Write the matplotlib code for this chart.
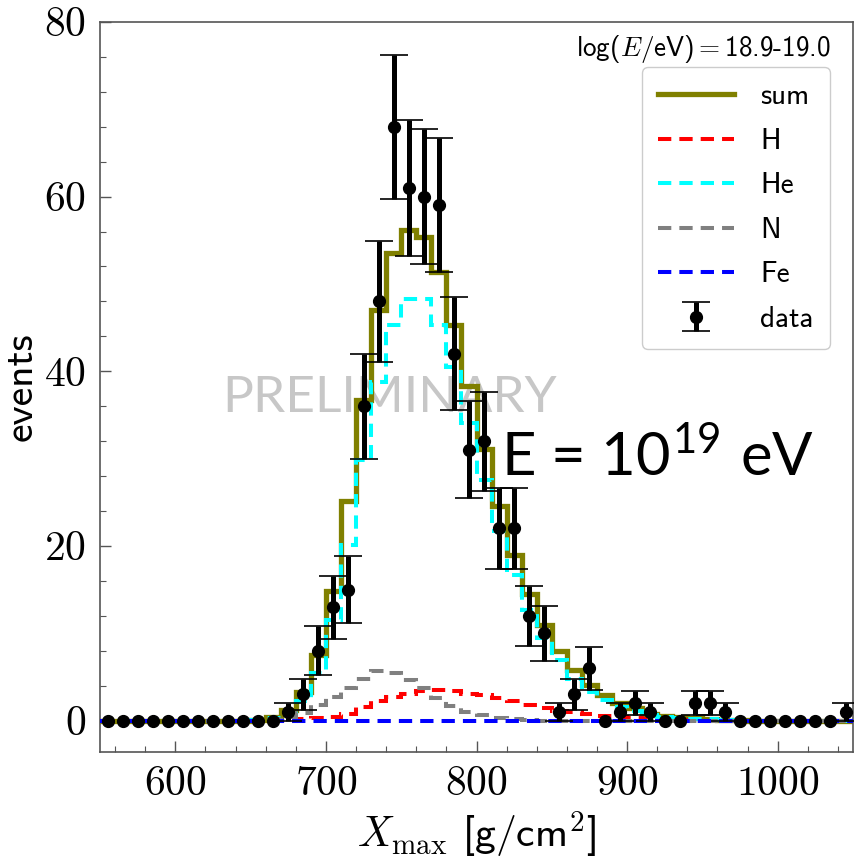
import numpy as np
import matplotlib
matplotlib.use("Agg")
import matplotlib.pyplot as plt
from matplotlib.ticker import MultipleLocator, FuncFormatter

plt.rcParams['mathtext.fontset'] = 'cm'
plt.rcParams['axes.unicode_minus'] = False
plt.rcParams['font.family'] = 'cmss10'

#%% Data (bins of 10 g/cm2 from 550 to 1050)
edges = np.arange(550, 1051, 10)
centers = edges[:-1] + 5

counts = [0]*12 + [1, 3, 8, 13, 15, 36, 48, 68, 61, 60, 59, 42, 31, 32, 22, 22,
                   12, 10, 1, 3, 6, 0, 1, 2, 1, 0, 0, 2, 2, 1] + [0]*7 + [1]

model_sum = [0]*10 + [0.1, 0.45, 1.2, 3.3, 7.5, 14.8, 25.1, 36.7, 47.0, 53.5, 56.2,
                      55.4, 51.4, 45.3, 38.3, 31.1, 24.6, 19.0, 14.5, 10.9, 8.0, 5.8,
                      4.1, 2.9, 2.0, 1.4, 0.8, 0.55, 0.4, 0.3, 0.2, 0.12, 0.05] + [0]*7

model_he = [0]*10 + [0.05, 0.3, 0.7, 2.2, 5.4, 11.5, 20.1, 29.8, 38.8, 45.3, 48.3,
                     48.3, 45.3, 40.5, 34.1, 27.6, 21.7, 16.7, 12.7, 9.5, 6.9, 4.8,
                     3.3, 2.35, 1.55, 1.1, 0.6, 0.45, 0.3, 0.2, 0.15, 0.1, 0.05] + [0]*7

model_n = [0]*11 + [0.15, 0.4, 0.85, 1.8, 2.7, 3.7, 4.8, 5.7, 5.5, 4.65, 3.7, 2.6,
                    1.7, 1.0, 0.6, 0.3, 0.15, 0.05] + [0]*21

model_h = [0]*13 + [0.15, 0.3, 0.45, 0.8, 1.5, 2.2, 2.7, 3.1, 3.4, 3.5, 3.4, 3.1,
                    2.9, 2.55, 2.2, 1.8, 1.4, 1.1, 1.0, 0.8, 0.55, 0.45, 0.3, 0.2,
                    0.1, 0.05] + [0]*11

model_fe = [0]*50

counts = np.array(counts, dtype=float)
err = np.sqrt(counts)
nz = counts > 0

#%% Plot
fig = plt.figure(figsize=(8.62, 8.65), dpi=100)
ax = fig.add_axes([0.116, 0.1306, 0.8736, 0.8440])

ax.text(0.385, 0.485, "PRELIMINARY", transform=ax.transAxes,
        fontsize=37, family='Lato', color='0.78', ha='center', va='center', zorder=0)

dash = dict(ls=(0, (3.3, 2.0)), lw=2.9, zorder=3)
ax.stairs(model_sum, edges, color='olive', lw=3.8, label='sum', zorder=2)
ax.stairs(model_h, edges, color='red', label='H', **dash)
ax.stairs(model_he, edges, color='cyan', label='He', **dash)
ax.stairs(model_n, edges, color='gray', label='N', **dash)
ax.stairs(model_fe, edges, color='blue', label='Fe', **dash)

ax.errorbar(centers[nz], counts[nz], yerr=err[nz], fmt='o', color='black', ms=8.5,
            elinewidth=3.6, capsize=10, capthick=1.2, label='data', zorder=5)
ax.plot(centers[~nz], counts[~nz], 'o', color='black', ms=8.5, zorder=5)

ax.set_xlim(550, 1050)
ax.set_ylim(-3.6, 80)
ax.xaxis.set_major_locator(MultipleLocator(100))
ax.xaxis.set_minor_locator(MultipleLocator(20))
ax.yaxis.set_major_locator(MultipleLocator(20))
ax.yaxis.set_minor_locator(MultipleLocator(4))
fmt = FuncFormatter(lambda v, p: f'${v:.0f}$')
ax.xaxis.set_major_formatter(fmt)
ax.yaxis.set_major_formatter(fmt)
ax.tick_params(which='both', direction='in', color='#555555', labelsize=30)
ax.tick_params(which='major', length=8, width=1)
ax.tick_params(which='minor', length=4.5, width=0.8)
ax.tick_params(axis='x', pad=10)
ax.tick_params(axis='y', pad=10)
for s in ax.spines.values():
    s.set_color('#555555')
    s.set_linewidth(1.2)

ax.set_xlabel(r"$X_{\rm max}$ [g/cm$^2$]", fontsize=30, labelpad=5)
ax.set_ylabel("events", fontsize=30, labelpad=3)

ax.text(0.97, 0.985, r"log($E/$eV)$=$18.9-19.0", transform=ax.transAxes,
        fontsize=19.5, ha='right', va='top')
ax.text(0.533, 0.405, r"E = 10$^{\mathregular{19}}$ eV", transform=ax.transAxes,
        fontsize=43, family='Lato', ha='left', va='center', zorder=1)

leg = ax.legend(loc='upper right', bbox_to_anchor=(0.969, 0.938), borderaxespad=0,
                fontsize=21, handlelength=2.6, handletextpad=0.9, labelspacing=0.6,
                borderpad=0.55, fancybox=True, framealpha=1, edgecolor='#cccccc')

fig.savefig("out.png", dpi=100)
